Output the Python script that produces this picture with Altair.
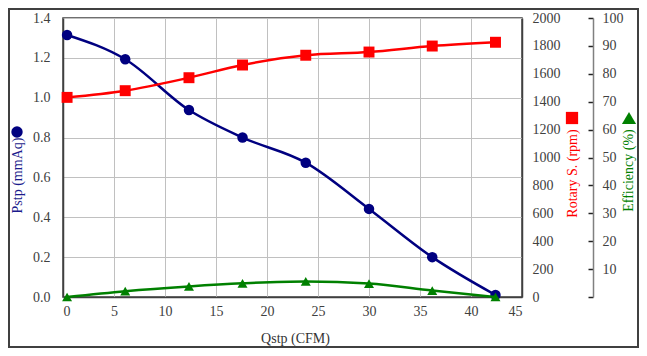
import altair as alt
import pandas as pd

# Data
qstp = [0.4, 6.1, 12.35, 17.6, 23.8, 30.0, 36.2, 42.4]
pstp = [1.315, 1.193, 0.938, 0.80, 0.674, 0.442, 0.20, 0.01]
rpm = [1431, 1479, 1572, 1663, 1733, 1756, 1799, 1826]
eff = [0.0, 2.1, 3.8, 4.9, 5.6, 4.8, 2.3, 0.0]

x_ticks = [0, 5, 10, 15, 20, 25, 30, 35, 40, 45]
p_ticks = [0.0, 0.2, 0.4, 0.6, 0.8, 1.0, 1.2, 1.4]
r_ticks = list(range(0, 2001, 200))
e_ticks = list(range(0, 101, 10))

df = pd.DataFrame({"Qstp": qstp, "Pstp": pstp, "RPM": rpm, "Eff": eff})

NAVY = "#000080"
RED = "#ff0000"
GREEN = "#008000"
AX = "#404040"
FONT = "Liberation Serif"

W, H = 459, 279
PAD = {"left": 55, "top": 10, "right": 117, "bottom": 51}
EFF_OFF = 71

common = dict(labelFont=FONT, titleFont=FONT, labelFontSize=14, titleFontSize=14,
              labelColor="#404040", titleFontWeight="normal")

xenc = alt.X(
    "Qstp:Q",
    scale=alt.Scale(domain=[0, 45], nice=False, zero=False),
    axis=alt.Axis(
        values=x_ticks, grid=True, gridColor="#c0c0c0", gridWidth=1,
        ticks=False, labelPadding=7, domainColor=AX, domainWidth=1.5,
        title="Qstp (CFM)", titleX=232, titleY=41, titleAlign="center",
        titleBaseline="middle", titleColor="#333333", **common,
    ),
)

base = alt.Chart(df)

# Pstp
py = alt.Y(
    "Pstp:Q",
    scale=alt.Scale(domain=[0, 1.4], nice=False),
    axis=alt.Axis(
        orient="left", values=p_ticks, format=".1f", grid=True,
        gridColor="#c0c0c0", gridWidth=1, ticks=False, labelPadding=13,
        domainColor=AX, domainWidth=1.5,
        title="Pstp (mmAq)", titleX=-46, titleY=157, titleAngle=270,
        titleAlign="center", titleBaseline="middle", titleColor="#1a1a8c",
        **common,
    ),
)
p_layer = alt.layer(
    base.mark_line(color=NAVY, strokeWidth=2.5, interpolate="monotone").encode(x=xenc, y=py),
    base.mark_point(color=NAVY, filled=True, opacity=1, size=110, shape="circle").encode(x=xenc, y=py),
)

# Rotary speed
ry = alt.Y(
    "RPM:Q",
    scale=alt.Scale(domain=[0, 2000], nice=False),
    axis=alt.Axis(
        orient="right", values=r_ticks, format="d", grid=False, ticks=False,
        labelPadding=10, domainColor=AX, domainWidth=1.5,
        title="Rotary S. (rpm)", titleX=50, titleY=155, titleAngle=270,
        titleAlign="center", titleBaseline="middle", titleColor=RED,
        **common,
    ),
)
r_layer = alt.layer(
    base.mark_line(color=RED, strokeWidth=2.5, interpolate="monotone").encode(x=xenc, y=ry),
    base.mark_point(color=RED, filled=True, opacity=1, size=120, shape="square").encode(x=xenc, y=ry),
)

# Efficiency: labels + title on the right
ey = alt.Y(
    "Eff:Q",
    scale=alt.Scale(domain=[0, 100], nice=False),
    axis=alt.Axis(
        orient="right", offset=EFF_OFF, values=e_ticks, format="d", grid=False,
        ticks=False, labelPadding=9, domain=False,
        labelExpr="datum.value == 0 ? '' : datum.label",
        title="Efficiency (%)", titleX=35, titleY=152, titleAngle=270,
        titleAlign="center", titleBaseline="middle", titleColor=GREEN,
        **common,
    ),
)
e_layer = alt.layer(
    base.mark_line(color=GREEN, strokeWidth=2.5, interpolate="monotone").encode(x=xenc, y=ey),
    base.mark_point(color=GREEN, filled=True, opacity=1, size=100, shape="triangle-up").encode(x=xenc, y=ey),
)

# Efficiency axis line with ticks pointing left (same 0-100 scale)
ey2 = alt.Y(
    "Eff:Q",
    scale=alt.Scale(domain=[0, 100], nice=False),
    axis=alt.Axis(
        orient="left", offset=-(W + EFF_OFF), values=e_ticks, grid=False,
        ticks=True, tickSize=5, tickColor="#222222", tickWidth=1.5,
        labels=False, domainColor="#808080", domainWidth=1.5, title=None,
    ),
)
e_axis_layer = base.mark_point(opacity=0).encode(x=xenc, y=ey2)

one = alt.Data(values=[{"k": 1}])
sym_circle = alt.Chart(one).mark_point(color=NAVY, filled=True, opacity=1, size=130, shape="circle").encode(
    x=alt.value(-46), y=alt.value(114))
sym_square = alt.Chart(one).mark_point(color=RED, filled=True, opacity=1, size=150, shape="square").encode(
    x=alt.value(509), y=alt.value(100))
sym_tri = alt.Chart(one).mark_point(color=GREEN, filled=True, opacity=1, size=200, shape="triangle-up").encode(
    x=alt.value(566), y=alt.value(100))
frame = alt.Chart(one).mark_rect(fill=None, stroke=AX, strokeWidth=2, filled=False).encode(
    x=alt.value(-PAD["left"] + 1), x2=alt.value(W + PAD["right"] - 1),
    y=alt.value(-PAD["top"] + 1), y2=alt.value(H + PAD["bottom"] - 1))

chart = alt.layer(
    p_layer, r_layer, e_layer, e_axis_layer, sym_circle, sym_square, sym_tri, frame
).resolve_scale(y="independent").properties(
    width=W, height=H,
    autosize=alt.AutoSizeParams(type="none"),
    padding=PAD,
    background="white",
).configure_view(
    stroke=AX, strokeWidth=1.5
)

chart.save("out.html", embed_options={"renderer": "svg", "actions": False})
